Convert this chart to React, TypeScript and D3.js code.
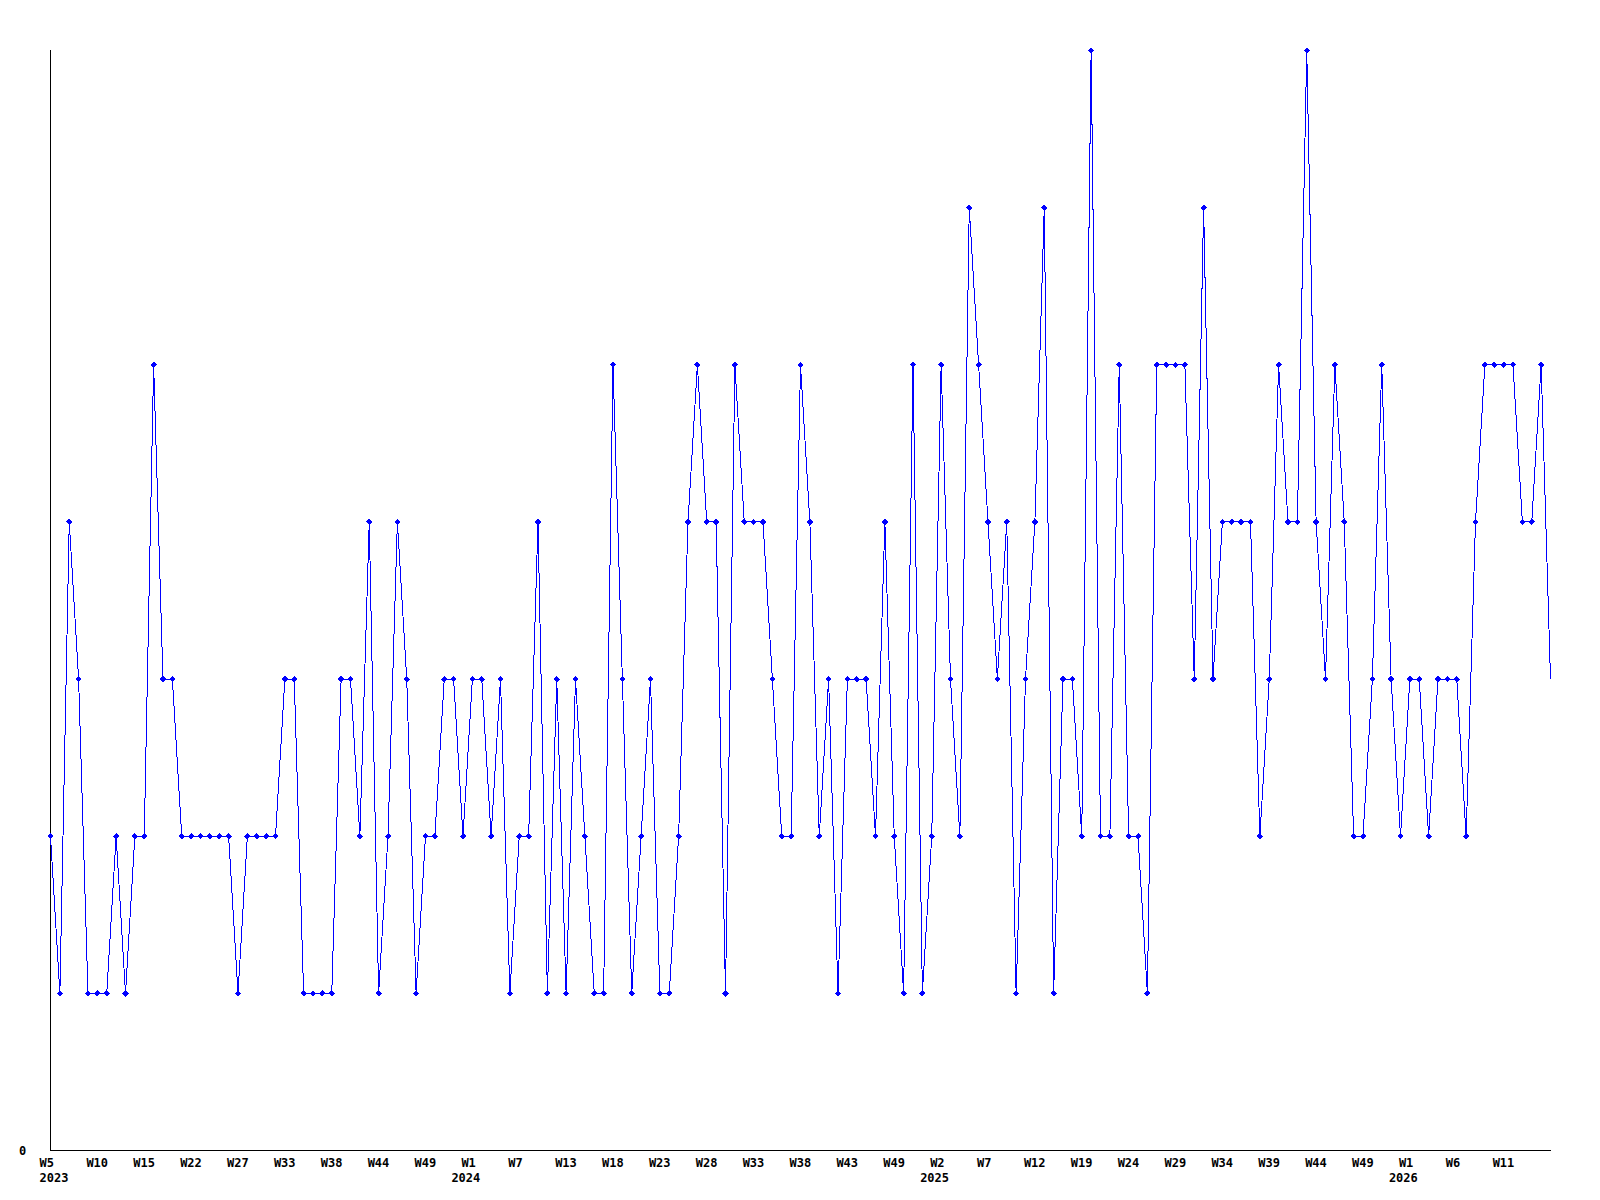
import React from "react";
import * as d3 from "d3";

// weekly values, 2023-W5 onward (one point per sample)
const values: number[] = [
  2, 1, 4, 3, 1, 1, 1, 2, 1, 2,
  2, 5, 3, 3, 2, 2, 2, 2, 2, 2,
  1, 2, 2, 2, 2, 3, 3, 1, 1, 1,
  1, 3, 3, 2, 4, 1, 2, 4, 3, 1,
  2, 2, 3, 3, 2, 3, 3, 2, 3, 1,
  2, 2, 4, 1, 3, 1, 3, 2, 1, 1,
  5, 3, 1, 2, 3, 1, 1, 2, 4, 5,
  4, 4, 1, 5, 4, 4, 4, 3, 2, 2,
  5, 4, 2, 3, 1, 3, 3, 3, 2, 4,
  2, 1, 5, 1, 2, 5, 3, 2, 6, 5,
  4, 3, 4, 1, 3, 4, 6, 1, 3, 3,
  2, 7, 2, 2, 5, 2, 2, 1, 5, 5,
  5, 5, 3, 6, 3, 4, 4, 4, 4, 2,
  3, 5, 4, 4, 7, 4, 3, 5, 4, 2,
  2, 3, 5, 3, 2, 3, 3, 2, 3, 3,
  3, 2, 4, 5, 5, 5, 5, 4, 4, 5,
  3,
];

// a label every 5 samples
const weekTickStep = 5;
const weekTickLabels: string[] = [
  "W5", "W10", "W15", "W22", "W27", "W33", "W38", "W44", "W49",
  "W1", "W7", "W13", "W18", "W23", "W28", "W33", "W38", "W43", "W49",
  "W2", "W7", "W12", "W19", "W24", "W29", "W34", "W39", "W44", "W49",
  "W1", "W6", "W11",
];

const yearTickIndex: number[] = [0, 45, 95, 145];
const yearTickLabels: string[] = ["2023", "2024", "2025", "2026"];

const yMax = 7;
const yTickLabels: number[] = [0];

const BLUE = "#0000ff";
const FONT = "'DejaVu Sans Mono', monospace";

export default function App() {
  const left = 50;
  const right = 1550;
  const top = 50;
  const bottom = 1150;

  const x = d3.scaleLinear().domain([0, values.length - 1]).range([left, right]);
  const y = d3.scaleLinear().domain([0, yMax]).range([bottom, top]);

  const line = d3
    .line<number>()
    .x((_, i) => x(i) + 0.5)
    .y((d) => y(d) + 0.5);

  const markerPath = (cx: number, cy: number) =>
    `M${cx - 2.5},${cy}L${cx},${cy - 2.5}L${cx + 2.5},${cy}L${cx},${cy + 2.5}Z`;

  return (
    <svg
      width={1600}
      height={1200}
      style={{ position: "absolute", left: 0, top: 0, background: "#fff" }}
    >
      <rect x={0} y={0} width={1600} height={1200} fill="#fff" />
      {/* axes */}
      <line x1={left + 0.5} y1={top} x2={left + 0.5} y2={bottom + 0.5} stroke="#000" strokeWidth={1} shapeRendering="crispEdges" />
      <line x1={left} y1={bottom + 0.5} x2={right + 0.5} y2={bottom + 0.5} stroke="#000" strokeWidth={1} shapeRendering="crispEdges" />

      {/* y labels */}
      {yTickLabels.map((v) => (
        <text key={v} x={19} y={y(v) + 4.5} fontFamily={FONT} fontWeight="bold" fontSize={12} fill="#000">
          {v}
        </text>
      ))}

      {/* week labels */}
      {weekTickLabels.map((lbl, k) => (
        <text
          key={"w" + k}
          x={x(k * weekTickStep) - 10.5}
          y={1167}
          fontFamily={FONT}
          fontWeight="bold"
          fontSize={12}
          fill="#000"
        >
          {lbl}
        </text>
      ))}

      {/* year labels */}
      {yearTickLabels.map((lbl, k) => (
        <text
          key={"y" + k}
          x={Math.max(39.5, x(yearTickIndex[k]) - 20.5)}
          y={1182}
          fontFamily={FONT}
          fontWeight="bold"
          fontSize={12}
          fill="#000"
        >
          {lbl}
        </text>
      ))}

      {/* series line */}
      <path d={line(values) || ""} fill="none" stroke={BLUE} strokeWidth={1} shapeRendering="crispEdges" />

      {/* markers */}
      {values.slice(0, values.length - 1).map((v, i) => (
        <path
          key={"m" + i}
          d={markerPath(x(i) + 0.5, y(v) + 0.5)}
          fill={BLUE}
          stroke={BLUE}
          strokeWidth={1}
          shapeRendering="crispEdges"
        />
      ))}
    </svg>
  );
}
